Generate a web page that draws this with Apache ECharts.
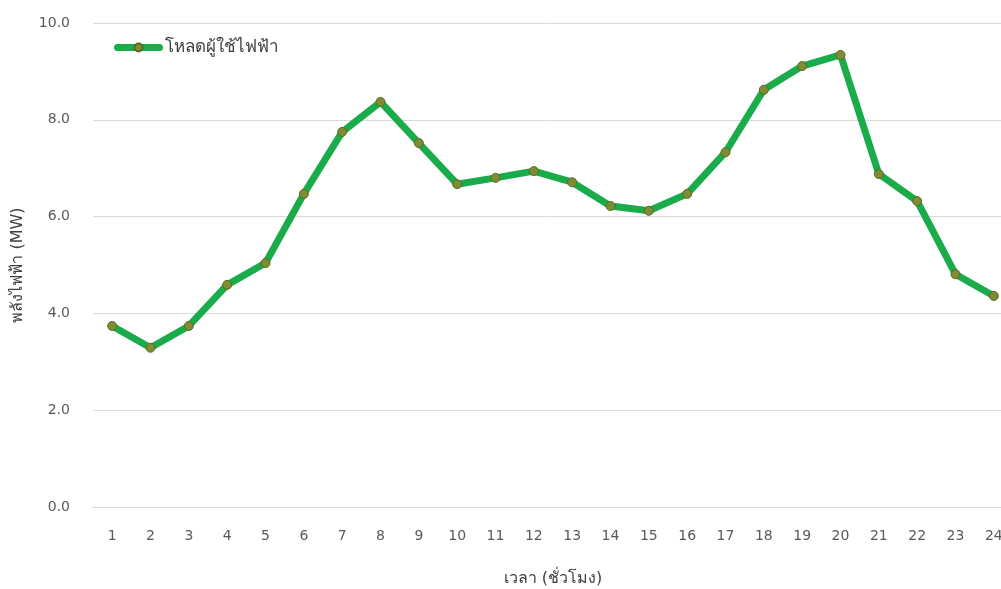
<!DOCTYPE html>
<html>
<head>
<meta charset="utf-8">
<script src="https://cdn.jsdelivr.net/npm/echarts@6/dist/echarts.min.js"></script>
<style>
  html, body { margin: 0; padding: 0; background: #fff; }
  #chart { width: 1001px; height: 589px; }
</style>
</head>
<body>
<div id="chart"></div>
<script>
var hours = ['1', '2', '3', '4', '5', '6', '7', '8', '9', '10', '11', '12',
  '13', '14', '15', '16', '17', '18', '19', '20', '21', '22', '23', '24'];
var loadMW = [3.74, 3.29, 3.74, 4.59, 5.04, 6.47, 7.75, 8.37, 7.52, 6.67, 6.80, 6.94,
  6.71, 6.22, 6.12, 6.47, 7.33, 8.62, 9.11, 9.34, 6.88, 6.32, 4.81, 4.36];
var seriesName = 'โหลดผู้ใช้ไฟฟ้า';

var myChart = echarts.init(document.getElementById('chart'));
var option = {
  animation: false,
  textStyle: { fontFamily: 'DejaVu Sans, Noto Sans, sans-serif' },
  legend: {
    show: true,
    left: 109,
    top: 34,
    itemWidth: 42,
    itemHeight: 10,
    lineStyle: { width: 7, cap: 'round' },
    textStyle: { fontSize: 17, color: '#404040' },
    data: [seriesName]
  },
  grid: {
    left: 93,
    top: 23,
    right: -12,
    bottom: 82,
    outerBoundsMode: 'none',
    containLabel: false
  },
  xAxis: {
    type: 'category',
    data: hours,
    name: 'เวลา (ชั่วโมง)',
    nameLocation: 'middle',
    nameGap: 64,
    nameTextStyle: { fontSize: 16, color: '#404040' },
    axisLine: { show: true, lineStyle: { color: '#d9d9d9' } },
    axisTick: { show: false },
    axisLabel: { color: '#595959', fontSize: 14, margin: 22 }
  },
  yAxis: {
    type: 'value',
    min: 0,
    max: 10,
    interval: 2,
    name: 'พลังไฟฟ้า (MW)',
    nameLocation: 'middle',
    nameGap: 67,
    nameTextStyle: { fontSize: 16, color: '#404040' },
    axisLine: { show: false },
    axisTick: { show: false },
    axisLabel: {
      color: '#595959',
      fontSize: 14,
      margin: 23,
      formatter: function (v) { return v.toFixed(1); }
    },
    splitLine: { lineStyle: { color: '#d9d9d9' } }
  },
  series: [
    {
      name: seriesName,
      type: 'line',
      data: loadMW,
      symbol: 'circle',
      symbolSize: 9,
      lineStyle: { color: '#1aab4b', width: 7, cap: 'round', join: 'round' },
      itemStyle: { color: '#7d8c35', borderColor: '#5b6a1f', borderWidth: 1 }
    }
  ]
};
myChart.setOption(option);
</script>
</body>
</html>
